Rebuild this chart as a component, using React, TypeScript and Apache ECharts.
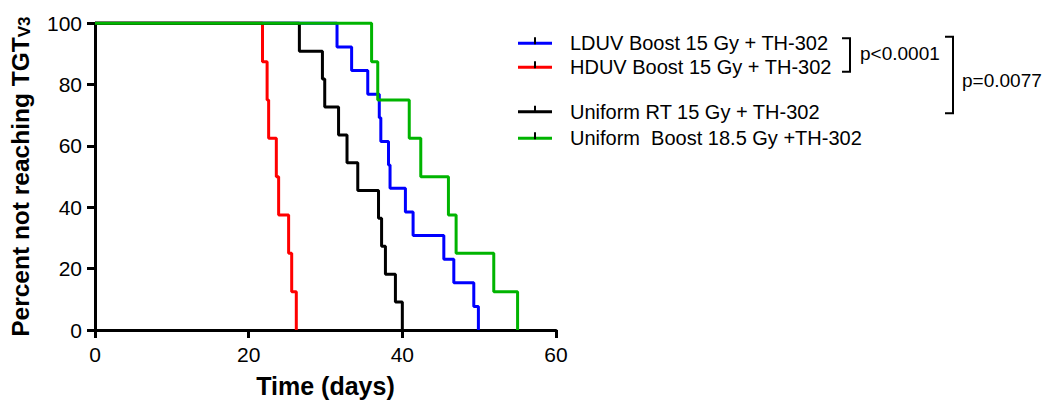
import React, { useEffect, useRef } from "react";
import * as echarts from "echarts";

const FONT = "'Liberation Sans', Arial, Helvetica, sans-serif";

const seriesNames = [
  "LDUV Boost 15 Gy + TH-302",
  "HDUV Boost 15 Gy + TH-302",
  "Uniform RT 15 Gy + TH-302",
  "Uniform  Boost 18.5 Gy +TH-302",
];
const seriesColors = ["#0000ff", "#ff0000", "#000000", "#00b400"];

// Kaplan-Meier step points: [day, percent remaining after event]
const lduvTimes = [0, 31.5, 33.4, 35.5, 37.0, 37.2, 38.2, 38.4, 40.4, 41.4, 45.4, 46.7, 49.3, 49.9];
const lduvValues = [100, 92.3, 84.6, 76.9, 69.2, 61.5, 53.8, 46.2, 38.5, 30.8, 23.1, 15.4, 7.7, 0];

const hduvTimes = [0, 21.8, 22.4, 22.6, 23.6, 23.9, 25.2, 25.6, 26.2];
const hduvValues = [100, 87.5, 75, 62.5, 50, 37.5, 25, 12.5, 0];

const uniformRtTimes = [0, 26.6, 29.6, 29.9, 31.7, 32.8, 34.2, 36.9, 37.3, 37.8, 39.1, 40.0];
const uniformRtValues = [100, 90.9, 81.8, 72.7, 63.6, 54.5, 45.5, 36.4, 27.3, 18.2, 9.1, 0];

const uniformBoostTimes = [0, 36.0, 36.8, 40.9, 42.4, 46.0, 47.0, 51.9, 55.0];
const uniformBoostValues = [100, 87.5, 75, 62.5, 50, 37.5, 25, 12.5, 0];

const xTicks = [0, 20, 40, 60];
const yTicks = [0, 20, 40, 60, 80, 100];

const pValues = ["p<0.0001", "p=0.0077"];

function zip(t: number[], v: number[]) {
  return t.map((x, i) => [x, v[i]]);
}

export default function App() {
  const ref = useRef<HTMLDivElement>(null);
  useEffect(() => {
    if (!ref.current) return;
    const chart = echarts.init(ref.current, null, { renderer: "svg" });
    const allData = [
      zip(lduvTimes, lduvValues),
      zip(hduvTimes, hduvValues),
      zip(uniformRtTimes, uniformRtValues),
      zip(uniformBoostTimes, uniformBoostValues),
    ];
    const legendRowsY = [43.3, 67.3, 111.7, 138.3];
    const legendTicks = legendRowsY.map((y) => ({
      type: "line",
      shape: { x1: 535, y1: y - 6, x2: 535, y2: y + 1 },
      style: { stroke: "#000", lineWidth: 2 },
      z: 100,
    }));
    const legendText = { fontFamily: FONT, fontSize: 20, color: "#000", lineHeight: 20, padding: [0, 0, 0, 13] };
    chart.setOption({
      animation: false,
      textStyle: { fontFamily: FONT },
      grid: { left: 95, top: 23.3, width: 461, height: 306.7, containLabel: false },
      xAxis: {
        type: "value",
        min: 0,
        max: 60,
        interval: 20,
        name: "Time (days)",
        nameLocation: "middle",
        nameGap: 43,
        nameTextStyle: { fontFamily: FONT, fontSize: 25, fontWeight: "bold", color: "#000" },
        axisLine: { show: true, onZero: false, lineStyle: { color: "#000", width: 3 } },
        axisTick: { show: true, length: 8, lineStyle: { color: "#000", width: 3 } },
        axisLabel: {
          fontFamily: FONT,
          fontSize: 21,
          color: "#000",
          margin: 14,
          customValues: xTicks,
        },
        splitLine: { show: false },
      },
      yAxis: {
        type: "value",
        min: 0,
        max: 100,
        interval: 20,
        name: "Percent not reaching TGT{sub|V3}",
        nameLocation: "middle",
        nameGap: 62,
        nameRotate: 90,
        nameTextStyle: {
          fontFamily: FONT,
          fontSize: 24.5,
          fontWeight: "bold",
          color: "#000",
          rich: {
            sub: {
              fontFamily: FONT,
              fontSize: 17,
              fontWeight: "bold",
              color: "#000",
              verticalAlign: "bottom",
              padding: [8, 0, 0, 0],
            },
          },
        },
        axisLine: { show: true, onZero: false, lineStyle: { color: "#000", width: 3 } },
        axisTick: { show: true, length: 8, lineStyle: { color: "#000", width: 3 } },
        axisLabel: {
          fontFamily: FONT,
          fontSize: 21,
          color: "#000",
          margin: 13,
          customValues: yTicks,
        },
        splitLine: { show: false },
      },
      legend: [
        {
          data: seriesNames.slice(0, 2),
          orient: "vertical",
          left: 518,
          top: 33.3,
          padding: 0,
          itemWidth: 34,
          itemHeight: 3,
          itemGap: 4,
          icon: "rect",
          textStyle: legendText,
        },
        {
          data: seriesNames.slice(2, 4),
          orient: "vertical",
          left: 518,
          top: 101.7,
          padding: 0,
          itemWidth: 34,
          itemHeight: 3,
          itemGap: 6.6,
          icon: "rect",
          textStyle: legendText,
        },
      ],
      graphic: [
        ...legendTicks,
        {
          type: "polyline",
          shape: { points: [[842, 38.3], [850, 38.3], [850, 71.7], [842, 71.7]] },
          style: { stroke: "#000", lineWidth: 2, fill: null },
        },
        {
          type: "text",
          x: 860,
          y: 53,
          style: { text: pValues[0], fontFamily: FONT, fontSize: 19, fill: "#000", verticalAlign: "middle", align: "left" },
        },
        {
          type: "polyline",
          shape: { points: [[945, 36.7], [953, 36.7], [953, 113.3], [945, 113.3]] },
          style: { stroke: "#000", lineWidth: 2, fill: null },
        },
        {
          type: "text",
          x: 962,
          y: 80,
          style: { text: pValues[1], fontFamily: FONT, fontSize: 19, fill: "#000", verticalAlign: "middle", align: "left" },
        },
      ],
      series: seriesNames.map((name, i) => ({
        name,
        type: "line",
        step: "end",
        data: allData[i],
        showSymbol: false,
        symbol: "none",
        color: seriesColors[i],
        lineStyle: { color: seriesColors[i], width: 3 },
        itemStyle: { color: seriesColors[i] },
        z: 2 + i,
        clip: false,
      })),
    });
    return () => chart.dispose();
  }, []);
  return (
    <div
      ref={ref}
      style={{ position: "fixed", left: 0, top: 0, width: 1046, height: 403, background: "#fff" }}
    />
  );
}
